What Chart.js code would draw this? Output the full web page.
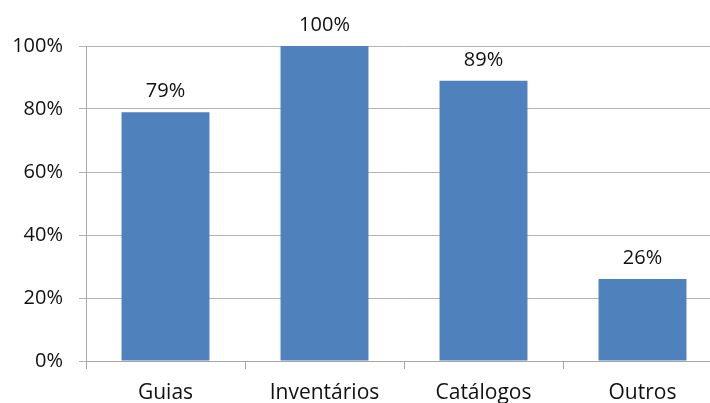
<!DOCTYPE html>
<html>
<head>
<meta charset="utf-8">
<script src="https://cdn.jsdelivr.net/npm/chart.js@4"></script>
<style>
  html, body { margin: 0; padding: 0; background: #fff; overflow: hidden; }
  #wrap { width: 740px; height: 403px; position: relative; }
</style>
</head>
<body>
<div id="wrap"><canvas id="c" width="740" height="403"></canvas></div>
<script>
const categories = ['Guias', 'Inventários', 'Catálogos', 'Outros'];
const values = [79, 100, 89, 26];
const yTicks = [0, 20, 40, 60, 80, 100];

const FONT = "'Open Sans', sans-serif";

// value labels above each bar
const barLabels = {
  id: 'barLabels',
  afterDatasetsDraw(chart) {
    const ctx = chart.ctx;
    const meta = chart.getDatasetMeta(0);
    ctx.save();
    ctx.font = '20px ' + FONT;
    ctx.fillStyle = '#111';
    ctx.textAlign = 'center';
    ctx.textBaseline = 'alphabetic';
    meta.data.forEach((bar, i) => {
      ctx.fillText(values[i] + '%', bar.x, bar.y - 15);
    });
    ctx.restore();
  }
};

new Chart(document.getElementById('c'), {
  type: 'bar',
  data: {
    labels: categories,
    datasets: [{
      data: values,
      backgroundColor: '#4F81BD',
      borderWidth: 0,
      barPercentage: 0.553,
      categoryPercentage: 1.0
    }]
  },
  options: {
    responsive: false,
    animation: false,
    events: [],
    layout: { padding: { top: 46, right: 18, left: 0, bottom: 0 } },
    plugins: { legend: { display: false }, tooltip: { enabled: false } },
    scales: {
      x: {
        offset: true,
        grid: {
          display: true,
          offset: true,
          drawOnChartArea: false,
          drawTicks: true,
          tickLength: 8,
          color: '#a6a6a6'
        },
        border: { display: true, color: '#a6a6a6' },
        ticks: {
          color: '#111',
          font: { family: FONT, size: 21 },
          padding: 11
        },
        afterFit(scale) { scale.height = 42; }
      },
      y: {
        min: 0,
        max: 100,
        afterBuildTicks(scale) { scale.ticks = yTicks.map(v => ({ value: v })); },
        grid: {
          color: '#b3b3b3',
          drawTicks: true,
          tickLength: 7
        },
        border: { display: true, color: '#a6a6a6' },
        ticks: {
          color: '#111',
          font: { family: FONT, size: 20 },
          padding: 16,
          callback: v => v + '%'
        },
        afterFit(scale) { scale.width = 86; }
      }
    }
  },
  plugins: [barLabels]
});
</script>
</body>
</html>
